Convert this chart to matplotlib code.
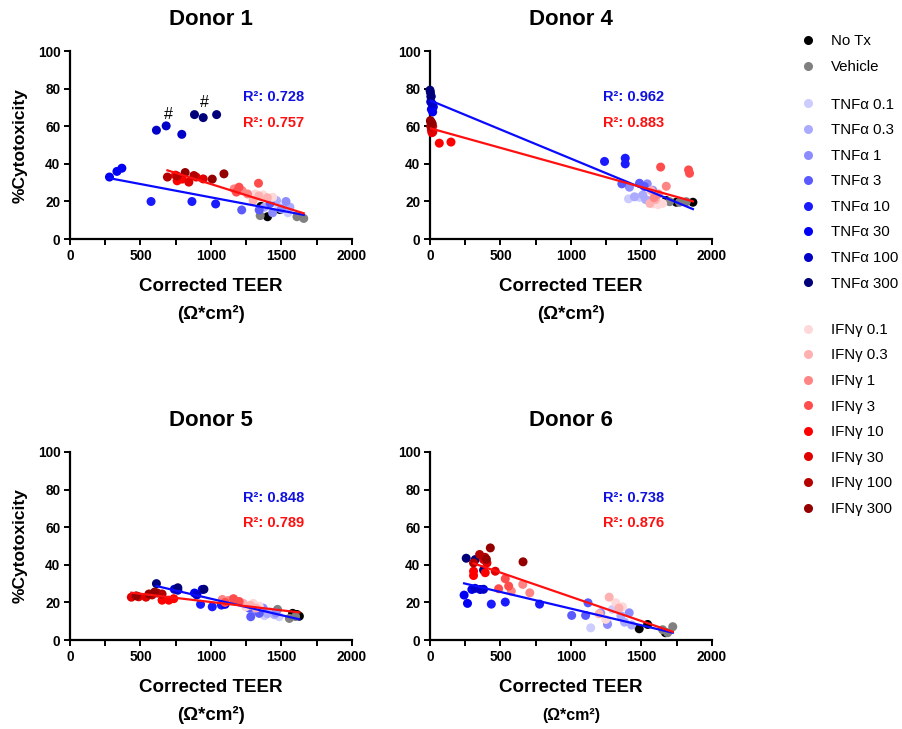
import numpy as np
import matplotlib.pyplot as plt
from matplotlib.lines import Line2D
from matplotlib.ticker import MultipleLocator

plt.rcParams['font.family'] = ['Liberation Sans', 'DejaVu Sans']

groups = ['No Tx', 'Vehicle',
          'TNFα 0.1', 'TNFα 0.3', 'TNFα 1', 'TNFα 3', 'TNFα 10', 'TNFα 30', 'TNFα 100', 'TNFα 300',
          'IFNγ 0.1', 'IFNγ 0.3', 'IFNγ 1', 'IFNγ 3', 'IFNγ 10', 'IFNγ 30', 'IFNγ 100', 'IFNγ 300']
colors = ['#000000', '#808080',
          '#ccccff', '#aaaaff', '#8c8cff', '#5a5aff', '#1a1aff', '#0000f5', '#0000c8', '#00007a',
          '#ffd9d9', '#ffb0b0', '#ff8585', '#ff4d4d', '#ff0000', '#e00000', '#b50000', '#940000']
tnf_idx = list(range(2, 10))
ifn_idx = list(range(10, 18))

# corrected TEER (x) and % cytotoxicity (y), one list per group in the order above
d1_x = [[1354, 1401, 1489], [1349, 1610, 1658],
        [1437, 1480, 1546], [1377, 1465, 1560], [1437, 1532, 1500], [1218, 1342, 1420],
        [575, 865, 1033], [280, 333, 368], [613, 682, 793], [883, 945, 1040],
        [1313, 1370, 1437], [1299, 1340, 1400], [1164, 1221, 1260], [1199, 1337, 1180],
        [748, 760, 796], [843, 895, 945], [691, 879, 760], [817, 1092, 1009]]
d1_y = [[17.4, 11.9, 15.7], [12.5, 11.9, 11.0],
        [22.0, 17.0, 14.0], [16.9, 20.5, 17.0], [14.0, 20.0, 16.0], [15.5, 15.5, 19.0],
        [20.0, 20.0, 18.7], [33.0, 36.0, 37.7], [57.9, 60.2, 55.7], [66.2, 64.6, 66.2],
        [24.0, 23.5, 22.2], [20.5, 23.0, 22.0], [26.7, 25.8, 24.0], [27.6, 29.7, 25.0],
        [34.0, 31.0, 31.9], [30.3, 33.0, 32.0], [33.0, 33.8, 33.5], [35.4, 34.7, 31.9]]

d4_x = [[1676, 1747, 1865], [1700, 1770, 1818],
        [1408, 1486, 1557], [1510, 1450, 1530], [1415, 1541, 1580], [1361, 1486, 1520],
        [1238, 1385, 1385], [19, 24, 10], [7, 5, 15], [0, 3, 8],
        [1581, 1617, 1650], [1569, 1600, 1560], [1676, 1620, 1590], [1636, 1834, 1841],
        [66, 149, 14], [19, 10, 20], [7, 12, 5], [3, 8, 15]]
d4_y = [[20.5, 19.6, 19.6], [19.9, 19.6, 19.9],
        [21.4, 22.2, 20.5], [23.5, 22.5, 21.0], [27.6, 29.4, 26.0], [29.4, 29.7, 28.0],
        [41.3, 43.0, 40.0], [67.6, 70.3, 69.0], [75.6, 73.0, 72.0], [79.2, 78.0, 76.0],
        [18.7, 18.3, 19.0], [25.8, 21.0, 19.0], [28.1, 24.0, 22.0], [38.3, 36.8, 35.0],
        [51.0, 51.6, 56.6], [60.0, 58.0, 57.0], [62.3, 61.0, 60.0], [63.0, 62.0, 61.5]]

d5_x = [[1579, 1610, 1627], [1472, 1556, 1600],
        [1380, 1420, 1484], [1330, 1400, 1450], [1300, 1370, 1460], [1282, 1342, 1270],
        [926, 1009, 1074], [938, 883, 1100], [765, 740, 900], [613, 765, 950],
        [1247, 1300, 1342], [1230, 1280, 1320], [1080, 1120, 1152], [1100, 1160, 1200],
        [653, 701, 736], [435, 487, 539], [582, 620, 653], [560, 600, 470]]
d5_y = [[14.2, 13.6, 12.7], [16.3, 11.5, 12.5],
        [13.0, 15.0, 12.4], [16.0, 14.0, 13.5], [15.5, 17.0, 14.5], [12.4, 14.2, 17.0],
        [19.0, 17.7, 18.6], [26.9, 25.0, 19.0], [26.5, 27.0, 24.0], [30.0, 27.8, 27.0],
        [17.7, 19.5, 18.0], [19.5, 18.5, 17.0], [21.6, 21.0, 21.6], [20.0, 22.0, 20.5],
        [21.2, 21.2, 22.0], [22.8, 23.0, 22.8], [24.0, 25.0, 24.5], [24.5, 25.5, 23.5]]

d6_x = [[1484, 1544, 1670], [1722, 1686, 1650],
        [1140, 1294, 1260], [1354, 1380, 1430], [1211, 1259, 1413], [1005, 1104, 1121],
        [435, 534, 777], [242, 266, 297], [356, 320, 380], [257, 321, 380],
        [1318, 1366, 1247], [1271, 1340, 1200], [577, 708, 658], [534, 487, 558],
        [309, 309, 392], [463, 380, 404], [352, 309, 390], [428, 660, 400]]
d6_y = [[6.0, 8.3, 3.9], [7.1, 3.9, 5.5],
        [6.5, 16.3, 9.0], [13.0, 9.5, 8.0], [14.5, 8.3, 14.5], [13.1, 13.1, 19.8],
        [19.1, 20.2, 19.1], [23.9, 19.5, 26.9], [26.9, 27.5, 27.0], [43.5, 42.8, 37.2],
        [19.8, 17.7, 11.0], [22.8, 17.0, 14.0], [26.0, 25.1, 29.6], [32.6, 27.3, 28.7],
        [36.6, 34.3, 35.8], [36.6, 42.8, 41.0], [45.5, 41.0, 44.0], [49.0, 41.6, 43.0]]

panels = [
    ('Donor 1', d1_x, d1_y, '0.728', '0.757', [8, 9]),
    ('Donor 4', d4_x, d4_y, '0.962', '0.883', []),
    ('Donor 5', d5_x, d5_y, '0.848', '0.789', []),
    ('Donor 6', d6_x, d6_y, '0.738', '0.876', []),
]
positions = [[0.0776, 0.672, 0.3126, 0.258], [0.4767, 0.672, 0.3126, 0.258],
             [0.0776, 0.122, 0.3126, 0.258], [0.4767, 0.122, 0.3126, 0.258]]

fig = plt.figure(figsize=(9.02, 7.29), dpi=100)

for i, (title, xs, ys, r2_tnf, r2_ifn, excluded) in enumerate(panels):
    ax = fig.add_axes(positions[i])
    for g in range(len(groups)):
        ax.scatter(xs[g], ys[g], s=42, color=colors[g], edgecolors='none',
                   zorder=3, clip_on=False)

    # linear fits: controls + each cytokine series (flagged groups left out)
    for idx, col in ((tnf_idx, '#0a0aff'), (ifn_idx, '#ff1010')):
        use = [g for g in [0, 1] + idx if g not in excluded]
        fx = np.concatenate([xs[g] for g in use])
        fy = np.concatenate([ys[g] for g in use])
        slope, inter = np.polyfit(fx, fy, 1)
        lx = np.array([fx.min(), fx.max()])
        ax.plot(lx, slope * lx + inter, color=col, lw=1.6, zorder=4)

    for g in excluded:
        ax.annotate('#', (np.mean(xs[g]), max(ys[g])), xytext=(0, 3),
                    textcoords='offset points', ha='center', va='bottom',
                    fontsize=11.5, zorder=5)

    ax.text(0.83, 0.755, 'R²: ' + r2_tnf, transform=ax.transAxes, ha='right',
            va='center', color='#1010e0', fontsize=10.5, fontweight='bold')
    ax.text(0.83, 0.62, 'R²: ' + r2_ifn, transform=ax.transAxes, ha='right',
            va='center', color='#ff1010', fontsize=10.5, fontweight='bold')

    ax.set_xlim(0, 2000)
    ax.set_ylim(0, 100)
    ax.xaxis.set_major_locator(MultipleLocator(500))
    ax.xaxis.set_minor_locator(MultipleLocator(250))
    ax.yaxis.set_major_locator(MultipleLocator(20))
    for side in ('top', 'right'):
        ax.spines[side].set_visible(False)
    for side in ('left', 'bottom'):
        ax.spines[side].set_linewidth(1.6)
    ax.tick_params(which='both', direction='out', length=4, width=1.4,
                   labelsize=9.8, pad=3)
    for lab in ax.get_xticklabels() + ax.get_yticklabels():
        lab.set_fontweight('bold')

    ax.text(0.5, 1.17, title, transform=ax.transAxes, ha='center', va='center',
            fontsize=16, fontweight='bold')
    ax.text(0.5, -0.25, 'Corrected TEER', transform=ax.transAxes, ha='center',
            va='center', fontsize=13.5, fontweight='bold')
    ax.text(0.5, -0.40, '(Ω*cm²)', transform=ax.transAxes, ha='center',
            va='center', fontsize=13.5 if i < 3 else 11.5, fontweight='bold')
    if i % 2 == 0:
        ax.set_ylabel('%Cytotoxicity', fontsize=12.5, fontweight='bold', labelpad=7)


def handles(idx):
    return [Line2D([], [], ls='none', marker='o', ms=6.5, color=colors[g],
                   markeredgewidth=0, label=groups[g]) for g in idx]


for idx, top in (([0, 1], 0.953), (tnf_idx, 0.866), (ifn_idx, 0.557)):
    fig.legend(handles=handles(idx), loc='upper left', bbox_to_anchor=(0.886, top),
               frameon=False, fontsize=10.8, borderpad=0, borderaxespad=0,
               handlelength=1.2, handletextpad=0.9, labelspacing=0.77)

fig.savefig('out.png', dpi=100)
